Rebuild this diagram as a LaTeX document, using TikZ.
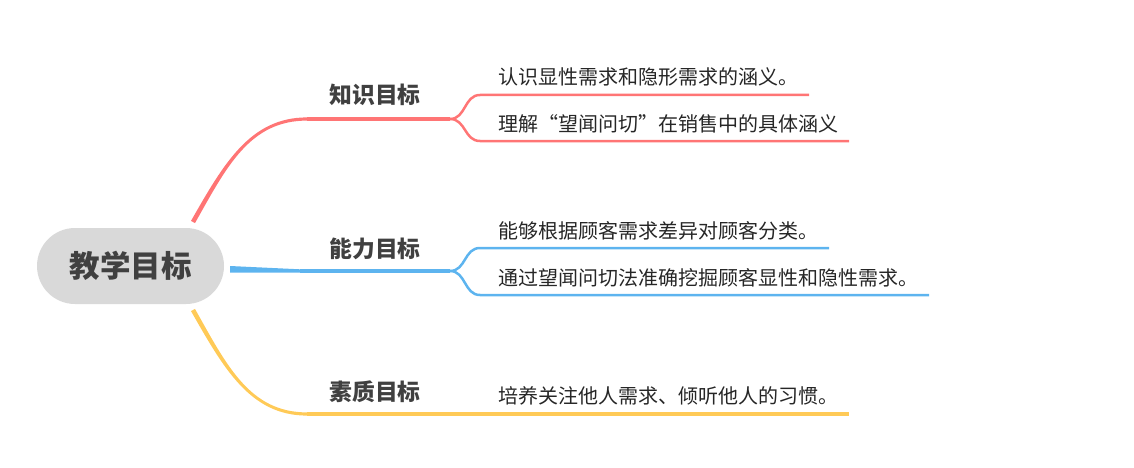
\documentclass[tikz,border=0pt]{standalone}
\usepackage{fontspec}
\newfontfamily\cjk{Noto Sans CJK SC}
\definecolor{bred}{HTML}{FF7575}
\definecolor{bblue}{HTML}{5DB4EF}
\definecolor{byellow}{HTML}{FFCA57}
\definecolor{pill}{HTML}{D9D9D9}
\definecolor{lbl}{HTML}{404040}
\definecolor{txt}{HTML}{262626}
\tikzset{
  rootnode/.style={fill=pill, rounded corners=38pt, minimum width=187pt, minimum height=76pt, inner sep=0pt,
    font=\cjk\bfseries\fontsize{30.5}{36}\selectfont, text=lbl},
  labelnode/.style={inner sep=0pt, font=\cjk\bfseries\fontsize{22.8}{27}\selectfont, text=lbl},
  leafnode/.style={inner sep=0pt, anchor=west, font=\cjk\fontsize{20}{24}\selectfont, text=txt},
  mainline/.style={line width=3.2pt},
  subline/.style={line width=2.5pt},
}
\begin{document}
\begin{tikzpicture}[x=1pt,y=-1pt]
\useasboundingbox (0,0) rectangle (1134,468);
\node[rootnode] (root) at (130.5,266) {教学目标};

% coordinates
\coordinate (r1) at (307,119);
\coordinate (rs) at (450,119);
\coordinate (ra) at (480,95);
\coordinate (rae) at (809,95);
\coordinate (rb) at (480,141);
\coordinate (rbe) at (849,141);

\coordinate (b1) at (300,271);
\coordinate (bs) at (450,271);
\coordinate (ba) at (480,248);
\coordinate (bae) at (829,248);
\coordinate (bb) at (480,295);
\coordinate (bbe) at (929,295);

\coordinate (y1) at (307,414);
\coordinate (ye) at (849,414);

% red branch (tapered)
\fill[bred] (191,220.9) .. controls (223.5,164) and (250,117.4) .. (307,117.4)
  -- (307,120.6) .. controls (250,120.6) and (227,166) .. (195,223.1) -- cycle;
\draw[bred, mainline] (r1) -- (rs);
\draw[bred, subline] (rs) .. controls (466,119) and (464,95) .. (ra) -- (rae);
\draw[bred, subline] (rs) .. controls (466,119) and (464,141) .. (rb) -- (rbe);

% blue branch (tapered)
\fill[bblue] (230,266) -- (300,269.3) -- (300,272.7) -- (230,272.7) -- cycle;
\draw[bblue, mainline] (b1) -- (bs);
\draw[bblue, subline] (bs) .. controls (466,271) and (464,248) .. (ba) -- (bae);
\draw[bblue, subline] (bs) .. controls (466,271) and (464,295) .. (bb) -- (bbe);

% yellow branch (tapered)
\fill[byellow] (191,311.1) .. controls (223.5,368) and (250,415.6) .. (307,415.6)
  -- (307,412.4) .. controls (250,412.4) and (227,366) .. (195,308.9) -- cycle;
\draw[byellow, mainline] (y1) -- (ye);

% labels
\node[labelnode] (k1) at (375,95) {知识目标};
\node[labelnode] (k2) at (375,249) {能力目标};
\node[labelnode] (k3) at (375,392) {素质目标};

% leaves
\node[leafnode] (l1) at (498,77) {认识显性需求和隐形需求的涵义。};
\node[leafnode] (l2) at (498,124) {理解“望闻问切”在销售中的具体涵义};
\node[leafnode] (l3) at (498,231) {能够根据顾客需求差异对顾客分类。};
\node[leafnode] (l4) at (498,278) {通过望闻问切法准确挖掘顾客显性和隐性需求。};
\node[leafnode] (l5) at (498,396) {培养关注他人需求、倾听他人的习惯。};
\end{tikzpicture}
\end{document}
